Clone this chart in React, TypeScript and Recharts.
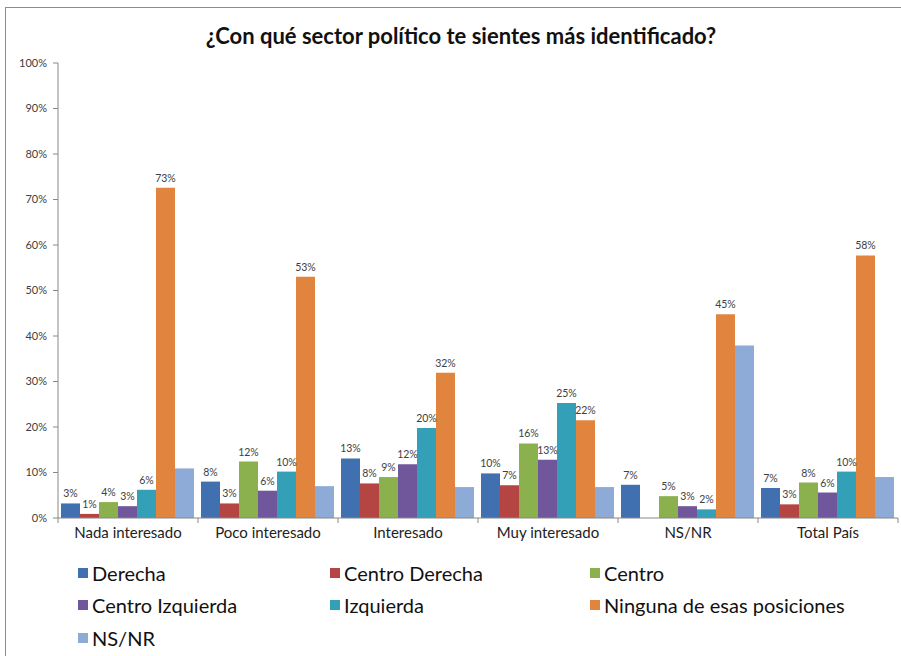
import { BarChart, Bar, XAxis, YAxis, LabelList } from "recharts";

const categories = [
  "Nada interesado",
  "Poco interesado",
  "Interesado",
  "Muy interesado",
  "NS/NR",
  "Total País",
];

const derecha = [3.2, 8.0, 13.1, 9.8, 7.3, 6.6];
const centroDerecha = [0.9, 3.2, 7.6, 7.2, 0, 3.0];
const centro = [3.5, 12.4, 9.0, 16.4, 4.8, 7.8];
const centroIzquierda = [2.6, 6.0, 11.8, 12.8, 2.6, 5.6];
const izquierda = [6.2, 10.2, 19.8, 25.3, 1.9, 10.2];
const ninguna = [72.6, 53.0, 31.9, 21.5, 44.8, 57.7];
const nsnr = [10.9, 7.0, 6.8, 6.8, 37.9, 9.0];

const yTicks = [0, 10, 20, 30, 40, 50, 60, 70, 80, 90, 100];

const series = [
  { key: "derecha", name: "Derecha", values: derecha, color: "#4170B0", label: true },
  { key: "centroDerecha", name: "Centro Derecha", values: centroDerecha, color: "#B54542", label: true },
  { key: "centro", name: "Centro", values: centro, color: "#8BB04E", label: true },
  { key: "centroIzquierda", name: "Centro Izquierda", values: centroIzquierda, color: "#70569A", label: true },
  { key: "izquierda", name: "Izquierda", values: izquierda, color: "#34A0B8", label: true },
  { key: "ninguna", name: "Ninguna de esas posiciones", values: ninguna, color: "#E0843E", label: true },
  { key: "nsnr", name: "NS/NR", values: nsnr, color: "#8EAAD6", label: false },
];

const data = categories.map((c, i) => {
  const row: Record<string, string | number> = { category: c };
  series.forEach((s) => {
    row[s.key] = s.values[i];
  });
  return row;
});

const W = 901;
const H = 656;
const PLOT_LEFT = 58;
const PLOT_RIGHT = 3;
const BAND = (W - PLOT_LEFT - PLOT_RIGHT) / categories.length;

const pct = (v: number) => `${Math.round(v)}%`;

function XTick(props: any) {
  const { x, y, payload, index } = props;
  return (
    <g>
      <line x1={x - BAND / 2} y1={y - 8} x2={x - BAND / 2} y2={y - 3} stroke="#888" />
      {index === categories.length - 1 && (
        <line x1={x + BAND / 2} y1={y - 8} x2={x + BAND / 2} y2={y - 3} stroke="#888" />
      )}
      <text x={x} y={y + 12} textAnchor="middle" fontSize={15} fill="#222">
        {payload.value}
      </text>
    </g>
  );
}

export default function App() {
  const legendCols = [78, 330, 590];
  const legendRows = [573, 605, 638];

  return (
    <div
      style={{
        position: "absolute",
        left: 0,
        top: 0,
        width: W,
        height: H,
        background: "#fff",
        fontFamily: "Lato, 'Open Sans', sans-serif",
        overflow: "hidden",
      }}
    >
      <div
        style={{
          position: "absolute",
          left: 5,
          top: 7,
          width: W,
          height: H,
          border: "1px solid #8c8c8c",
        }}
      />
      <div
        style={{
          position: "absolute",
          left: 21,
          width: W - 21,
          top: 22,
          textAlign: "center",
          fontWeight: 700,
          fontSize: 22,
          color: "#111",
        }}
      >
        ¿Con qué sector político te sientes más identificado?
      </div>
      <div style={{ position: "absolute", left: 0, top: 0 }}>
        <BarChart
          width={W}
          height={H}
          data={data}
          margin={{ top: 63, right: PLOT_RIGHT, left: 0, bottom: 108 }}
          barCategoryGap={3}
          barGap={0}
        >
          <XAxis
            dataKey="category"
            height={30}
            tickLine={false}
            axisLine={{ stroke: "#888" }}
            tick={<XTick />}
            interval={0}
          />
          <YAxis
            width={PLOT_LEFT}
            domain={[0, 100]}
            ticks={yTicks}
            tickFormatter={(v: number) => `${v}%`}
            tick={{ fontSize: 11, fill: "#404040" }}
            tickLine={{ stroke: "#888" }}
            axisLine={{ stroke: "#888" }}
            tickSize={5}
            tickMargin={6}
          />
          {series.map((s) => (
            <Bar
              key={s.key}
              dataKey={s.key}
              name={s.name}
              fill={s.color}
              isAnimationActive={false}
            >
              {s.label && (
                <LabelList
                  dataKey={s.key}
                  position="top"
                  formatter={(v: any) => pct(Number(v))}
                  style={{ fontSize: 10.5, fill: "#404040" }}
                  offset={6}
                />
              )}
            </Bar>
          ))}
        </BarChart>
      </div>
      {series.map((s, i) => (
        <div
          key={s.key}
          style={{
            position: "absolute",
            left: legendCols[i % 3],
            top: legendRows[Math.floor(i / 3)] - 12,
            display: "flex",
            alignItems: "center",
            fontSize: 20,
            color: "#111",
            whiteSpace: "nowrap",
          }}
        >
          <span
            style={{
              display: "inline-block",
              width: 10,
              height: 10,
              background: s.color,
              marginRight: 4,
            }}
          />
          {s.name}
        </div>
      ))}
    </div>
  );
}
